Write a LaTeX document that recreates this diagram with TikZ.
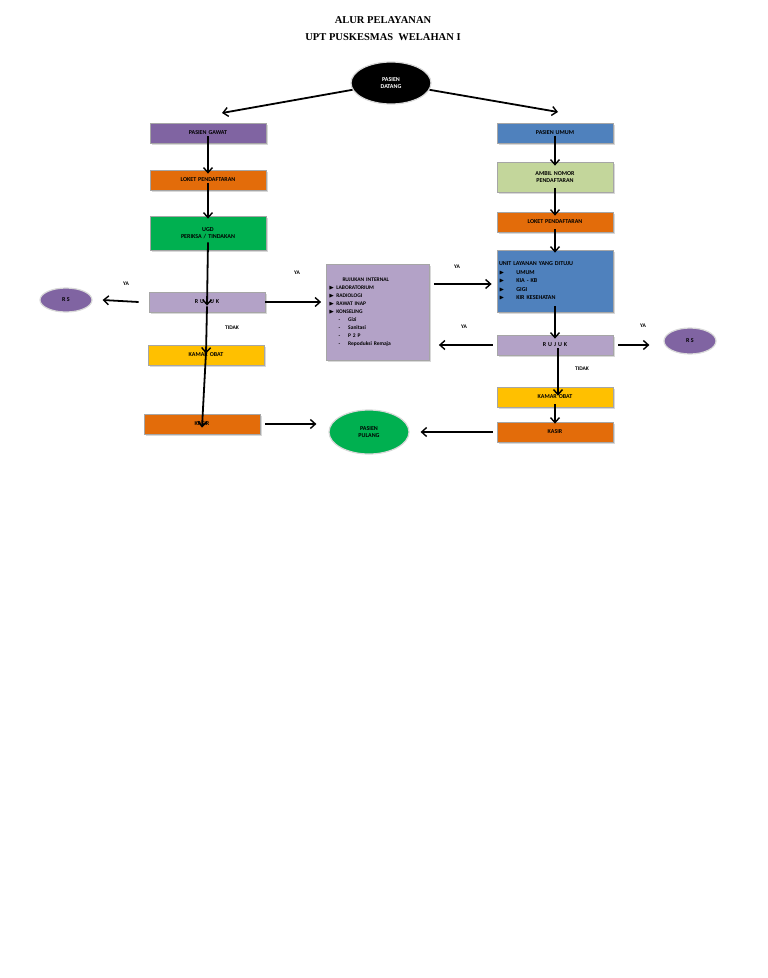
\documentclass[tikz,border=0pt]{standalone}
\usepackage{amssymb}
\usepackage{fontspec}
\setmainfont{Liberation Serif}
\newfontfamily\carl{Carlito}
\usetikzlibrary{arrows.meta,shapes.geometric,shadows}
\definecolor{cpurple}{HTML}{8064A2}
\definecolor{corange}{HTML}{E36C0A}
\definecolor{cgreen}{HTML}{00B050}
\definecolor{clav}{HTML}{B3A2C7}
\definecolor{cyellow}{HTML}{FFC000}
\definecolor{cblue}{HTML}{4F81BD}
\definecolor{clgreen}{HTML}{C3D69B}
\newcommand{\tri}{\ensuremath{\blacktriangleright}}
\begin{document}
\begin{tikzpicture}[x=1pt,y=-1pt,
 box/.style={draw=gray!70,line width=0.8pt,minimum height=20pt,text width=112pt,align=center,inner sep=2pt,
   font=\carl\bfseries\fontsize{6}{7}\selectfont,drop shadow={shadow xshift=1.5pt,shadow yshift=-1.5pt,fill=gray!60}},
 ell/.style={ellipse,draw=white!85!black,line width=1.2pt,align=center,font=\carl\bfseries\fontsize{6}{7}\selectfont,inner sep=0pt},
 arr/.style={-{Straight Barb[length=5pt,width=9pt,line width=1.4pt]},line width=1.8pt},
 lab/.style={font=\carl\bfseries\fontsize{5.5}{6}\selectfont}]
\useasboundingbox (0,0) rectangle (768,978);
\node[font=\bfseries\fontsize{10.5}{12}\selectfont] (t1) at (383,20) {ALUR PELAYANAN};
\node[font=\bfseries\fontsize{10.5}{12}\selectfont] (t2) at (383,37) {UPT PUSKESMAS\ \ WELAHAN I};
\node[ell,fill=black,text=white,minimum width=80pt,minimum height=42pt] (pd) at (391,83) {PASIEN\\DATANG};
% left column
\node[box,fill=cpurple,minimum height=20pt] (pg) at (208,133) {PASIEN GAWAT};
\node[box,fill=corange] (lk1) at (208,180) {LOKET PENDAFTARAN};
\node[box,fill=cgreen,minimum height=34pt] (ugd) at (208,233) {UGD\\PERIKSA / TINDAKAN};
\node[box,fill=clav] (rj1) at (207,302) {R U J U K};
\node[box,fill=cyellow] (ko1) at (206,355) {KAMAR OBAT};
\node[box,fill=corange] (ks1) at (202,424) {KASIR};
\node[ell,fill=cpurple,minimum width=52pt,minimum height=24pt] (rs1) at (66,300) {R S};
\node[ell,fill=cgreen,minimum width=80pt,minimum height=44pt] (pp) at (369,432) {PASIEN\\PULANG};
\node[box,fill=clav,text width=99pt,minimum height=96pt,align=left,font=\carl\bfseries\fontsize{5.5}{8}\selectfont] (ri) at (378,312) {\hspace*{14pt}RUJUKAN INTERNAL\\
\tri\ LABORATORIUM\\\tri\ RADIOLOGI\\\tri\ RAWAT INAP\\\tri\ KONSELING\\
\hspace*{10pt}-\hspace{8pt}Gizi\\\hspace*{10pt}-\hspace{8pt}Sanitasi\\\hspace*{10pt}-\hspace{8pt}P 2 P\\\hspace*{10pt}-\hspace{8pt}Repoduksi Remaja};
% right column
\node[box,fill=cblue] (pu) at (555,133) {PASIEN UMUM};
\node[box,fill=clgreen,minimum height=30pt] (an) at (555,177) {AMBIL NOMOR\\PENDAFTARAN};
\node[box,fill=corange] (lk2) at (555,222) {LOKET PENDAFTARAN};
\node[box,fill=cblue,minimum height=62pt,align=left,font=\carl\bfseries\fontsize{6}{8.5}\selectfont] (ul) at (555,281) {UNIT LAYANAN YANG DITUJU\\
\tri\hspace{12pt}UMUM\\\tri\hspace{12pt}KIA - KB\\\tri\hspace{12pt}GIGI\\\tri\hspace{12pt}KIR KESEHATAN};
\node[box,fill=clav] (rj2) at (555,345) {R U J U K};
\node[box,fill=cyellow] (ko2) at (555,397) {KAMAR OBAT};
\node[box,fill=corange] (ks2) at (555,432) {KASIR};
\node[ell,fill=cpurple,minimum width=52pt,minimum height=26pt] (rs2) at (690,341) {R S};
% connectors
\coordinate (pdl) at (222,113); \coordinate (pdr) at (558,112);
\draw[arr] (pd.190) -- (pdl);
\draw[arr] (pd.-10) -- (pdr);
\draw[arr] ([yshift=7pt]pg.south) -- ([yshift=-4pt]lk1.north);
\draw[arr] ([yshift=7pt]lk1.south) -- ([yshift=-3pt]ugd.north);
\draw[arr] ([yshift=8pt]ugd.south) -- ([yshift=-14pt]rj1.north);
\draw[arr] ([yshift=6pt]rj1.south) -- ([yshift=-9pt]ko1.north);
\draw[arr] ([yshift=13pt]ko1.south) -- ([yshift=-14pt]ks1.north);
\draw[arr] ([xshift=-10pt]rj1.west) -- ([xshift=10pt]rs1.east);
\draw[arr] (rj1.east) -- ([xshift=-5pt]ri.west|-rj1.east);
\draw[arr] ([xshift=5pt]ks1.east) -- ([xshift=-12pt]pp.west|-ks1.east);
\draw[arr] ([xshift=4pt,yshift=-3pt]ri.east|-ul.west) -- ([xshift=-5pt,yshift=-3pt]ul.west);
\draw[arr] ([xshift=-4pt]rj2.west) -- ([xshift=9pt]ri.east|-rj2.west);
\draw[arr] ([xshift=5pt]rj2.east) -- ([xshift=-14pt]rs2.west|-rj2.east);
\draw[arr] ([xshift=-4pt]ks2.west) -- ([xshift=11pt]pp.east|-ks2.west);
\draw[arr] ([yshift=7pt]pu.south) -- ([yshift=-4pt]an.north);
\draw[arr] ([yshift=4pt]an.south) -- ([yshift=-4pt]lk2.north);
\draw[arr] ([yshift=3pt]lk2.south) -- ([yshift=-3pt]ul.north);
\draw[arr] ([yshift=6pt]ul.south) -- ([yshift=-4pt]rj2.north);
\draw[arr] ([yshift=7pt,xshift=3pt]rj2.south) -- ([yshift=-9pt,xshift=3pt]ko2.north);
\draw[arr] ([yshift=3pt]ko2.south) -- ([yshift=-2pt]ks2.north);
% labels
\node[lab] (l1) at (126,284) {YA};
\node[lab] (l2) at (297,273) {YA};
\node[lab] (l3) at (232,328) {TIDAK};
\node[lab] (l4) at (457,267) {YA};
\node[lab] (l5) at (464,327) {YA};
\node[lab] (l6) at (643,326) {YA};
\node[lab] (l7) at (582,369) {TIDAK};
\end{tikzpicture}
\end{document}
